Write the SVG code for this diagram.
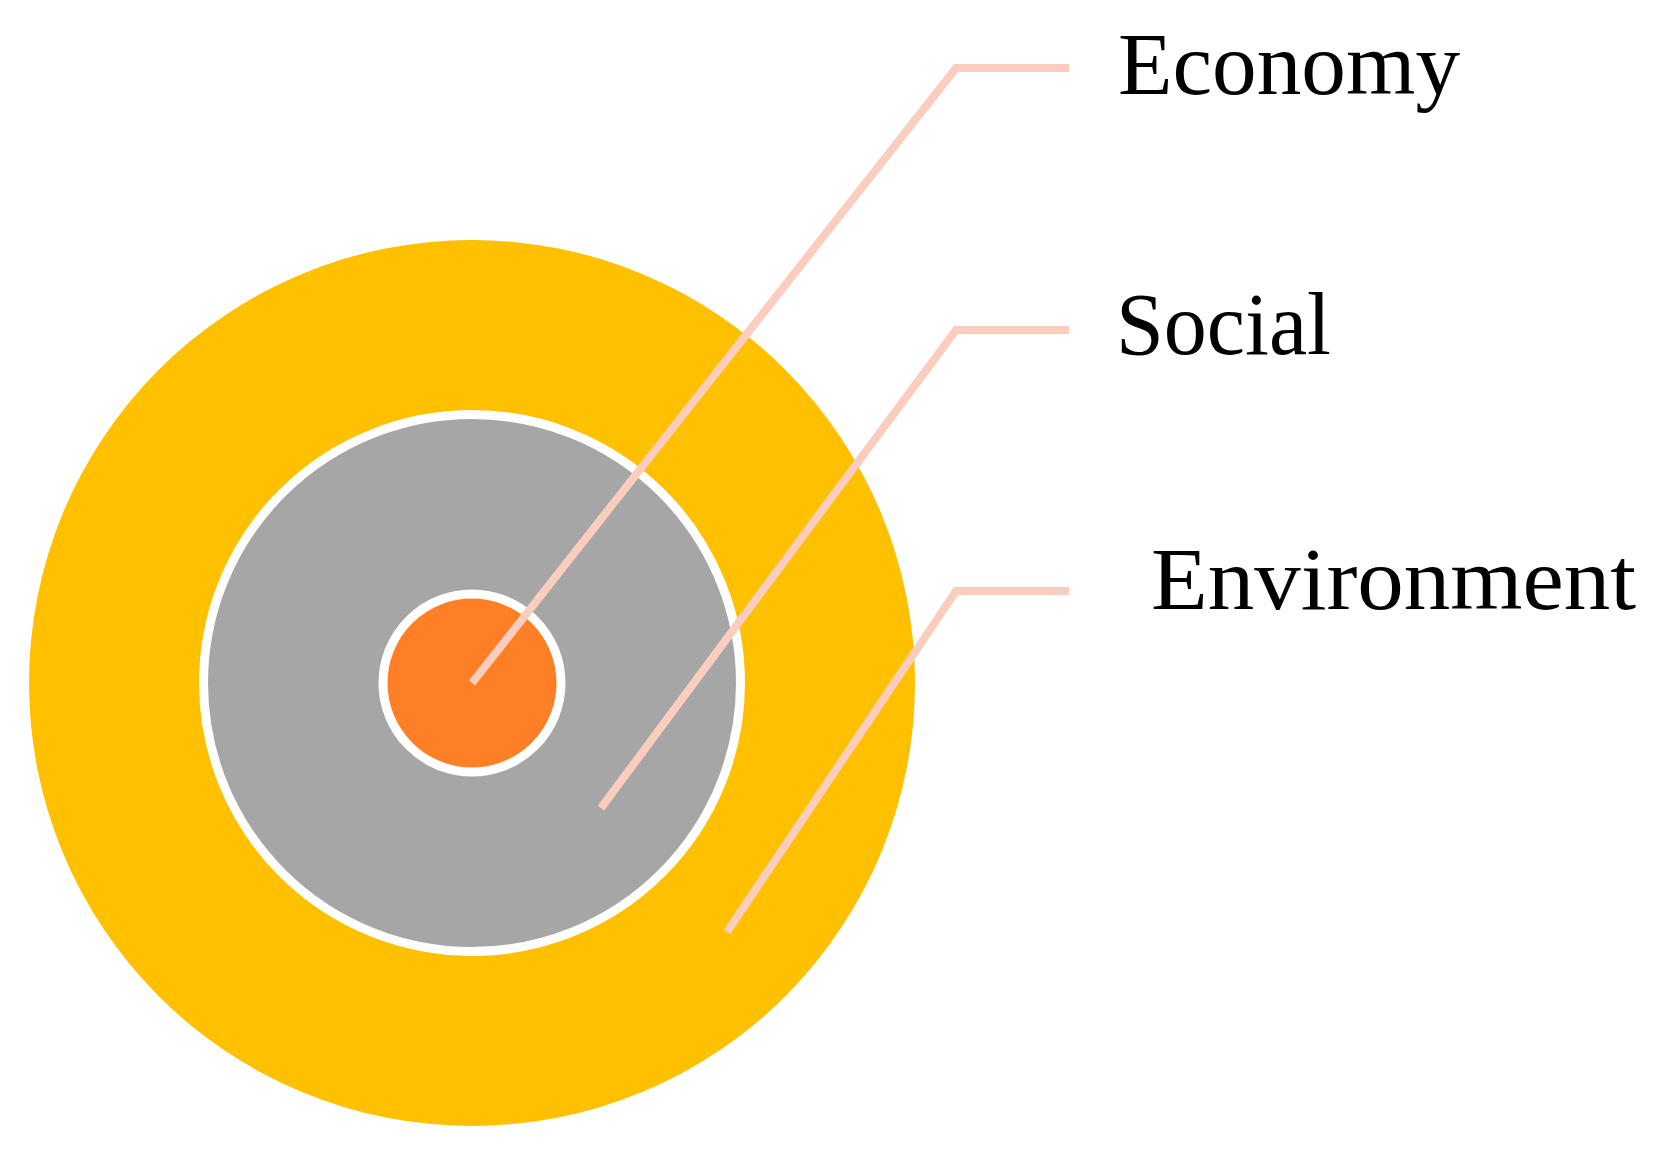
<svg xmlns="http://www.w3.org/2000/svg" width="1659" height="1161" viewBox="0 0 1659 1161">
  <style>
    .lbl { font-family: "Liberation Serif", "Times New Roman", serif; font-size: 88px; fill: #000000; }
    .conn { fill: none; stroke: #FBCDBE; stroke-width: 8; stroke-linejoin: miter; }
  </style>
  <rect width="1659" height="1161" fill="#FFFFFF"/>
  <g id="environment-ring">
    <circle cx="472" cy="683" r="443" fill="#FFC000"/>
  </g>
  <g id="social-ring">
    <circle cx="472" cy="683" r="268.5" fill="#A6A6A6" stroke="#FFFFFF" stroke-width="9"/>
  </g>
  <g id="economy-core">
    <circle cx="472" cy="683" r="89" fill="#FE7F25" stroke="#FFFFFF" stroke-width="9"/>
  </g>
  <g id="connectors">
    <polyline class="conn" points="472,683 956,68 1069,68"/>
    <polyline class="conn" points="601,808 956,330 1069,330"/>
    <polyline class="conn" points="727,932 956,591 1069,591"/>
  </g>
  <g id="label-economy">
    <text class="lbl" x="1118" y="94" textLength="342" lengthAdjust="spacingAndGlyphs">Economy</text>
  </g>
  <g id="label-social">
    <text class="lbl" x="1116" y="354" textLength="215" lengthAdjust="spacingAndGlyphs">Social</text>
  </g>
  <g id="label-environment">
    <text class="lbl" x="1151" y="609" textLength="485" lengthAdjust="spacingAndGlyphs">Environment</text>
  </g>
</svg>
